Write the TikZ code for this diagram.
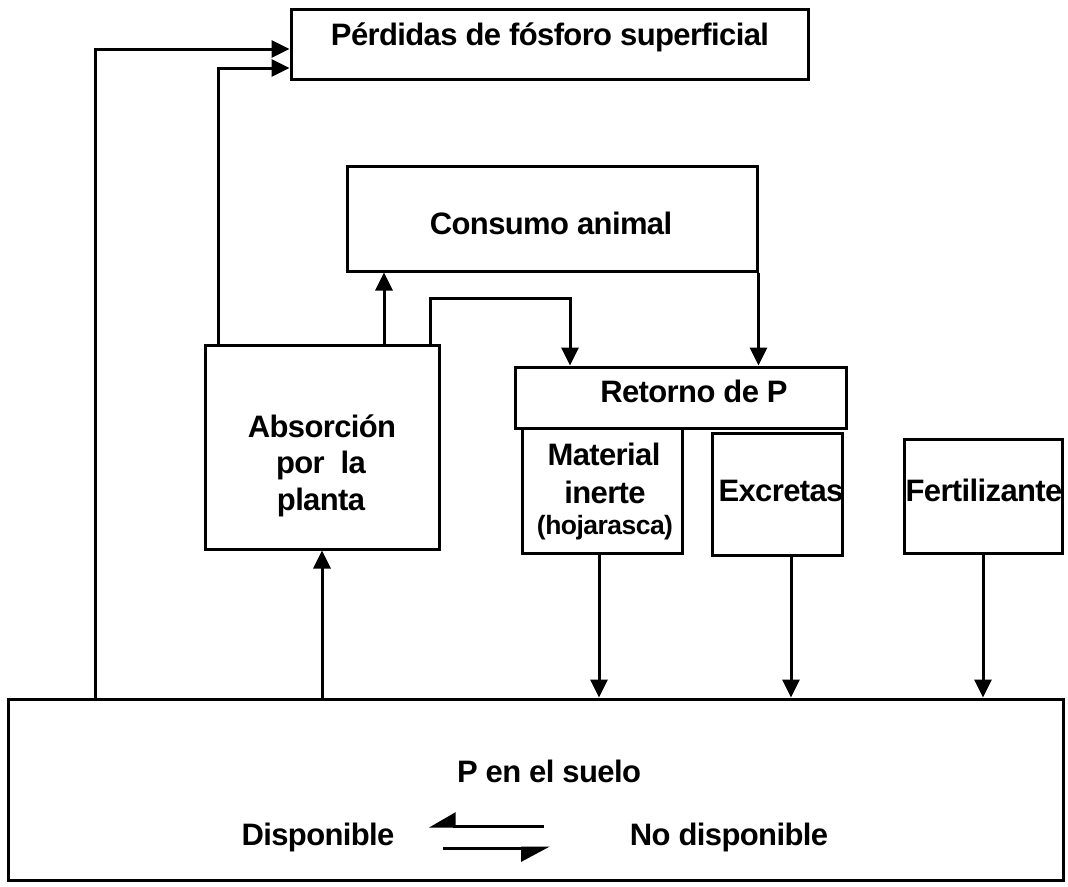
\documentclass[tikz,border=0pt]{standalone}
\usepackage{fontspec}
\setmainfont{Liberation Sans}
\newfontfamily\labelfont[LetterSpace=-2.0]{Liberation Sans Bold}
\usetikzlibrary{arrows.meta}
\begin{document}
\begin{tikzpicture}[x=1pt,y=-1pt,
  box/.style={draw, line width=3pt, inner sep=0pt},
  txt/.style={inner sep=0pt, anchor=base, font=\labelfont\fontsize{31}{36}\selectfont},
  smalltxt/.style={txt, font=\labelfont\fontsize{26.5}{30}\selectfont},
  arr/.style={line width=3pt, -{Triangle[length=18pt,width=17pt]}},
  harp/.style={line width=3pt, -{Triangle[harpoon,swap,length=#1,width=27pt]}}]
\useasboundingbox (0,0) rectangle (1068,886);

% boxes
\node[box, minimum width=517pt, minimum height=70pt]  (perd) at (549.5,44) {};
\node[box, minimum width=410pt, minimum height=105pt] (cons) at (552,218.5) {};
\node[box, minimum width=234pt, minimum height=204pt] (abs)  at (322,447) {};
\node[box, minimum width=331pt, minimum height=61pt]  (ret)  at (680.5,397.5) {};
\node[box, minimum width=160pt, minimum height=125pt] (mat)  at (602,490.5) {};
\node[box, minimum width=130pt, minimum height=122pt] (exc)  at (777,494) {};
\node[box, minimum width=158pt, minimum height=114pt] (fer)  at (983,496) {};
\node[box, minimum width=1055pt, minimum height=181pt] (soil) at (535.5,789.5) {};

% labels
\node[txt] (tperd) at (550,45)  {Pérdidas de fósforo superficial};
\node[txt] (tcons) at (551,234) {Consumo animal};
\node[txt] (tabs1) at (322,437) {Absorción};
\node[txt] (tabs2) at (321,473) {por\ \ la};
\node[txt] (tabs3) at (321,510) {planta};
\node[txt] (tret)  at (694,402) {Retorno de P};
\node[txt] (tmat1) at (604,465) {Material};
\node[txt] (tmat2) at (605,503) {inerte};
\node[smalltxt] (tmat3) at (605,534) {(hojarasca)};
\node[txt] (texc)  at (781,501) {Excretas};
\node[txt] (tfer)  at (984,501) {Fertilizante};
\node[txt] (tsoil) at (549,782) {P en el suelo};
\node[txt] (tdisp) at (318,845) {Disponible};
\node[txt] (tnod)  at (729,845) {No disponible};

% column positions of the connectors
\coordinate (xa) at (95,0);
\coordinate (xb) at (218,0);
\coordinate (xc) at (384,0);
\coordinate (xd) at (430,0);
\coordinate (ke) at (570,298);
\coordinate (xf) at (599,0);
\coordinate (xg) at (791,0);

% losses to the surface
\draw[arr] (soil.north -| xa) |- ([yshift=-5pt]perd.west);
\draw[arr] (abs.north -| xb) |- ([yshift=-24pt]perd.west);

% plant uptake to animals and to the return
\draw[arr] (abs.north -| xc) -- (cons.south -| xc);
\draw[arr] (abs.north -| xd) |- (ke) -- (ret.north -| ke);
\draw[arr] (cons.south east) -- (ret.north -| cons.south east);

% soil to plant and inputs back to the soil
\draw[arr] (soil.north -| abs.south) -- (abs.south);
\draw[arr] (mat.south -| xf) -- (soil.north -| xf);
\draw[arr] (exc.south -| xg) -- (soil.north -| xg);
\draw[arr] (fer.south) -- (soil.north -| fer.south);

% equilibrium between the two pools
\coordinate (h1) at (544,826);
\coordinate (h2) at (429,826);
\coordinate (h3) at (443,848);
\coordinate (h4) at (550,848);
\draw[harp={24pt}] (h1) -- (h2);
\draw[harp={26pt}] (h3) -- (h4);
\end{tikzpicture}
\end{document}
